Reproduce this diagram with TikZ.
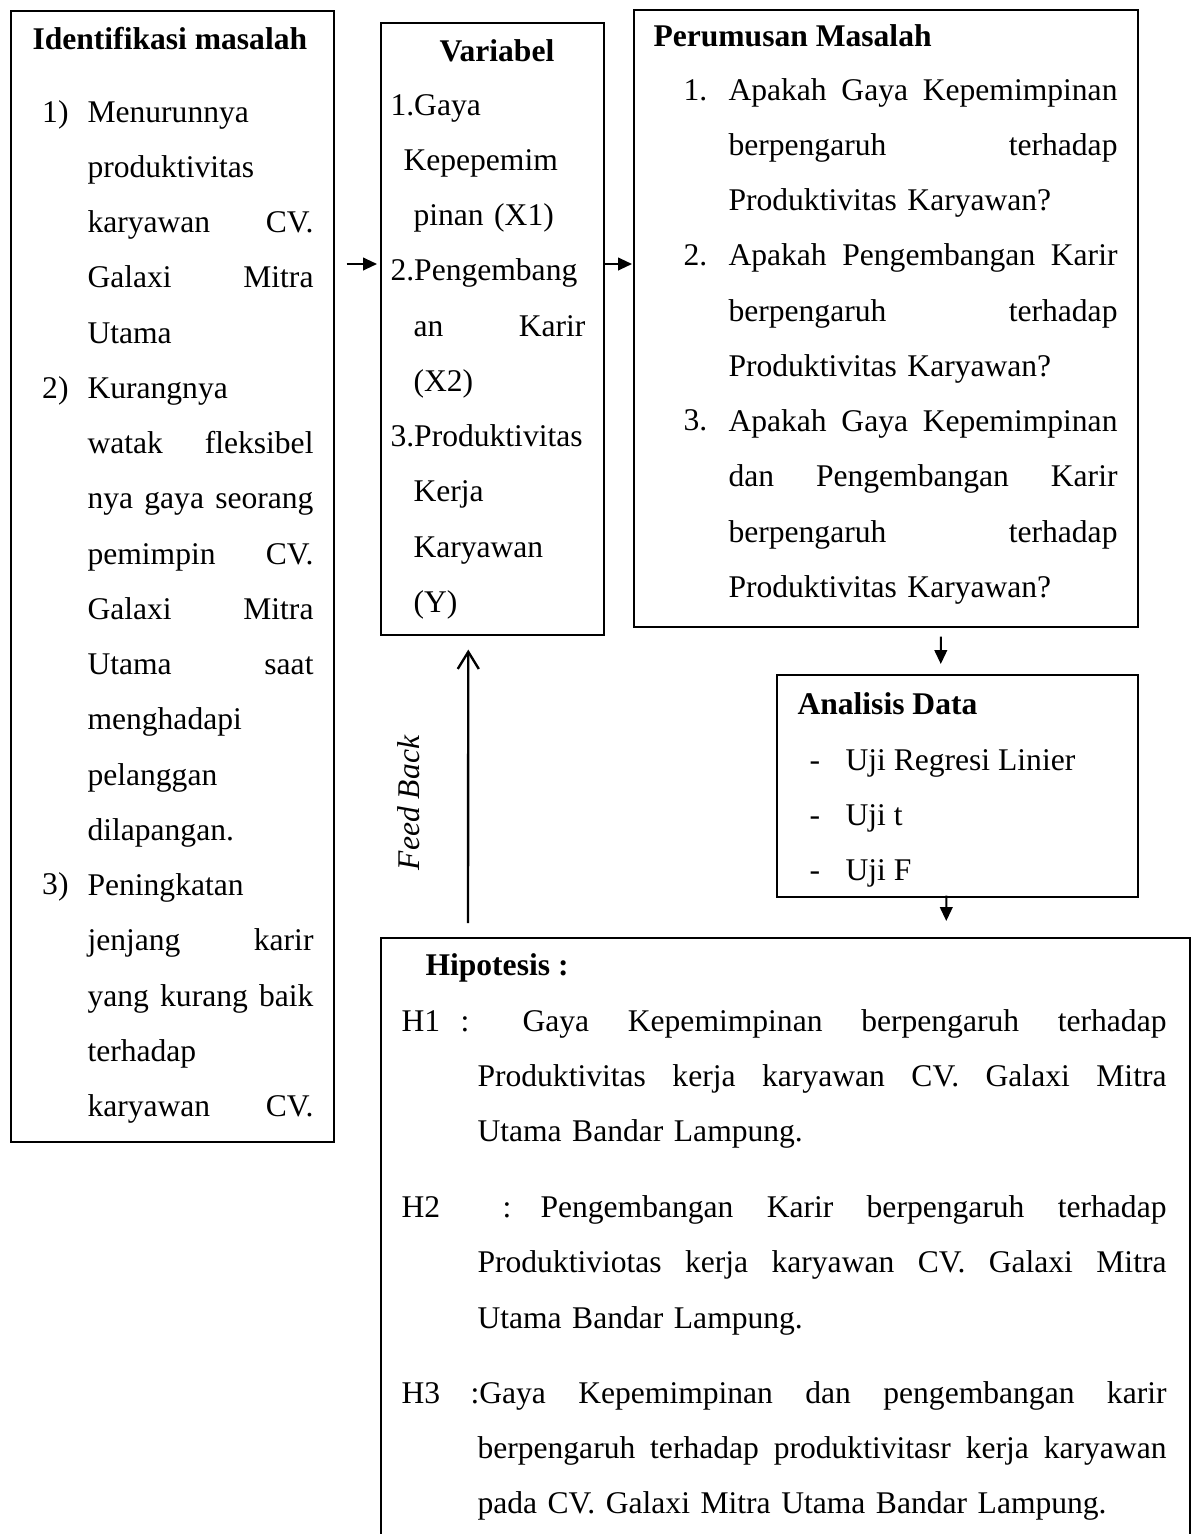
\documentclass[tikz,border=0pt]{standalone}
\usepackage{fontspec}
\setmainfont{Liberation Serif}
\usetikzlibrary{arrows.meta}
\usetikzlibrary{calc}

\newcommand{\jus}[2][0pt]{\hspace*{#1}\hbox to \dimexpr\hsize-#1\relax{\spaceskip=0.25em plus 1fil\relax #2}}

\tikzset{
  box/.style={draw, line width=0.6pt, inner sep=0pt, anchor=north west},
  txt/.style={inner sep=0pt, anchor=base west, font=\fontsize{12}{21}\selectfont},
  ttl/.style={txt, font=\fontsize{12}{21}\selectfont\bfseries},
  arr/.style={-{Triangle[length=5.3pt,width=4.8pt]}, line width=0.75pt},
  fb/.style={-{Straight Barb[length=6.5pt,width=8pt]}, line width=0.9pt}
}

\begin{document}
\begin{tikzpicture}[x=0.38pt, y=-0.38pt]
  \useasboundingbox (0,0) rectangle (1192,1534);

  \node[box, minimum width=122.74pt, minimum height=429.78pt] (ident) at (10,10) {};
  \node[box, minimum width=84.74pt, minimum height=232.56pt] (var) at (380,22) {};
  \node[box, minimum width=191.52pt, minimum height=234.46pt] (rumus) at (633,9) {};
  \node[box, minimum width=137.18pt, minimum height=84.36pt] (anal) at (776,674) {};
  \node[box, minimum width=307.42pt, minimum height=247pt] (hipo) at (380,937) {};

  % Identifikasi masalah
  \node[ttl] (identT) at (32,50) {Identifikasi masalah};
  \node[txt] (identN1) at (41.7,122) {1)};
  \node[txt] (identN2) at (41.7,398) {2)};
  \node[txt] (identN3) at (41.7,894) {3)};
  \node[txt, text width=85.88pt] (identB) at (87,122) {%
    Menurunnya\\
    produktivitas\\
    \jus{karyawan CV.}\\
    \jus{Galaxi Mitra}\\
    Utama\\
    Kurangnya\\
    \jus{watak fleksibel}\\
    \jus{nya gaya seorang}\\
    \jus{pemimpin CV.}\\
    \jus{Galaxi Mitra}\\
    \jus{Utama saat}\\
    menghadapi\\
    pelanggan\\
    dilapangan.\\
    Peningkatan\\
    \jus{jenjang karir}\\
    \jus{yang kurang baik}\\
    terhadap\\
    \jus{karyawan CV.}};

  % Variabel
  \node[ttl, anchor=base] (varT) at (497,61.7) {Variabel};
  \node[txt, text width=74.1pt] (varB) at (390,115) {%
    1.Gaya\\
    \hspace*{4.94pt}Kepepemim\\
    \hspace*{8.74pt}pinan (X1)\\
    2.Pengembang\\
    \jus[8.74pt]{an Karir}\\
    \hspace*{8.74pt}(X2)\\
    3.Produktivitas\\
    \hspace*{8.74pt}Kerja\\
    \hspace*{8.74pt}Karyawan\\
    \hspace*{8.74pt}(Y)};

  % Perumusan Masalah
  \node[ttl] (rumusT) at (653,46.7) {Perumusan Masalah};
  \node[txt] (rumusN1) at (683,100) {1.};
  \node[txt] (rumusN2) at (683,265) {2.};
  \node[txt] (rumusN3) at (683,430) {3.};
  \node[txt, text width=147.82pt] (rumusB) at (728,100) {%
    \jus{Apakah Gaya Kepemimpinan}\\
    \jus{berpengaruh terhadap}\\
    Produktivitas Karyawan?\\
    \jus{Apakah Pengembangan Karir}\\
    \jus{berpengaruh terhadap}\\
    Produktivitas Karyawan?\\
    \jus{Apakah Gaya Kepemimpinan}\\
    \jus{dan Pengembangan Karir}\\
    \jus{berpengaruh terhadap}\\
    Produktivitas Karyawan?};

  % Analisis Data
  \begin{scope}
    \clip (anal.north west) rectangle ([shift={(0,-8)}]anal.south east);
    \node[ttl] (analT) at (797,714) {Analisis Data};
    \node[txt] (analD1) at (809,770) {-};
    \node[txt] (analD2) at (809,825) {-};
    \node[txt] (analD3) at (809,880) {-};
    \node[txt] (analB1) at (845,770) {Uji Regresi Linier};
    \node[txt] (analB2) at (845,825) {Uji t};
    \node[txt] (analB3) at (845,880) {Uji F};
  \end{scope}

  % Hipotesis
  \node[ttl] (hipoT) at (425,975) {Hipotesis :};
  \node[txt] (h1) at (401,1031) {H1};
  \node[txt] (h1c) at (460,1031) {:};
  \node[txt, text width=261.82pt] (h1B) at (477,1031) {%
    \jus[17.1pt]{Gaya Kepemimpinan berpengaruh terhadap}\\
    \jus{Produktivitas kerja karyawan CV. Galaxi Mitra}\\
    Utama Bandar Lampung.};
  \node[txt] (h2) at (401,1217.7) {H2};
  \node[txt] (h2c) at (502,1217.7) {:};
  \node[txt, text width=261.82pt] (h2B) at (477,1217.7) {%
    \jus[23.94pt]{Pengembangan Karir berpengaruh terhadap}\\
    \jus{Produktiviotas kerja karyawan CV. Galaxi Mitra}\\
    Utama Bandar Lampung.};
  \node[txt] (h3) at (401,1403) {H3};
  \node[txt, text width=264.48pt] (h3B) at (470,1403) {%
    \jus{:Gaya Kepemimpinan dan pengembangan karir}\\
    \jus[2.66pt]{berpengaruh terhadap produktivitasr kerja karyawan}\\
    \hspace*{2.66pt}pada CV. Galaxi Mitra Utama Bandar Lampung.};

  \node[txt, anchor=center, rotate=90, font=\fontsize{12}{21}\selectfont\itshape] (fbT) at (409,803) {Feed Back};

  % Panah antar kotak
  \draw[arr] ([shift={(12,254)}]ident.north east) -- ([shift={(-3,242)}]var.north west);
  \draw[arr] ([shift={(0,242)}]var.north east) -- ([shift={(-1,255)}]rumus.north west);
  \draw[arr] ([shift={(55,9)}]rumus.south) -- ([shift={(-16.5,-10)}]anal.north);
  \draw[arr] ([shift={(-11,-2)}]anal.south) -- ([shift={(161,-16)}]hipo.north);
  \draw[fb] ([shift={(88,-14)}]hipo.north west) -- ([shift={(-24,14)}]var.south);
\end{tikzpicture}
\end{document}
